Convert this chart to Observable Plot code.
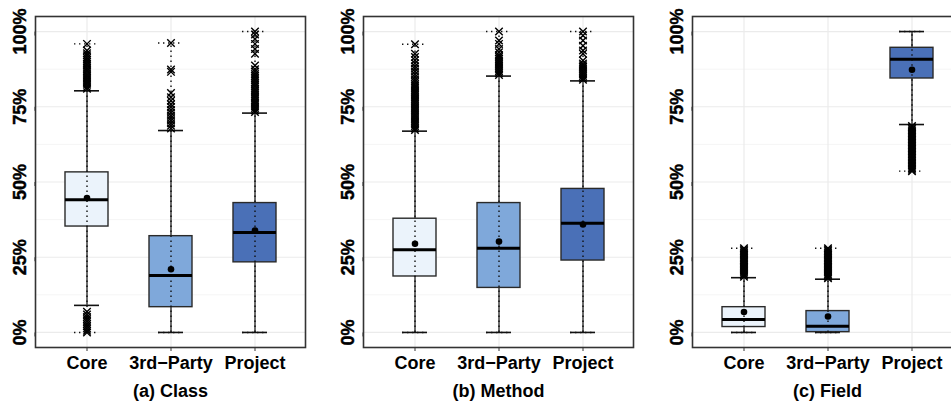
<!DOCTYPE html>
<html><head><meta charset="utf-8">
<script src="https://cdn.jsdelivr.net/npm/d3@7"></script>
<script src="https://cdn.jsdelivr.net/npm/@observablehq/plot@0.6"></script>
<style>
body{margin:0;background:#fff}
#wrap{position:relative;width:951px;height:405px;overflow:hidden;background:#fff}
#wrap svg{position:absolute;top:0;overflow:visible}
#wrap svg text{font-weight:bold}
#wrap svg g[aria-label="y-axis tick label"] text{stroke:#000;stroke-width:0.45px}
</style></head><body><div id="wrap"></div>
<script>
// ---- data (percent values) ----
const categories = ["Core", "3rd\u2212Party", "Project"];
const panelTitles = ["(a) Class", "(b) Method", "(c) Field"];
const yTicks = [0, 25, 50, 75, 100];
const yMinorTicks = [12.5, 37.5, 62.5, 87.5];

// (a) Class
const classQ1 = [35.2, 8.4, 23.3];
const classMedian = [44.1, 18.9, 33.2];
const classQ3 = [53.2, 32.0, 43.0];
const classMean = [44.7, 21.0, 33.9];
const classWhiskerLow = [9.0, 0, 0];
const classWhiskerHigh = [80.3, 67.1, 72.9];
const classMin = [0, 0, 0];
const classMax = [95.9, 96.2, 100];
const classOutCore = [0, 0.6, 1.3, 2.1, 2.8, 3.6, 4.4, 5.1, 6.0, 6.9, 81.0, 81.6, 82.3, 82.9, 83.6, 84.2, 84.8, 85.5, 86.1, 86.8, 87.4, 88.0, 88.7, 89.3, 90.0, 90.6, 91.3, 92.1, 92.8, 93.7, 95.9];
const classOut3rd = [67.8, 68.7, 69.5, 70.4, 71.3, 72.1, 73.0, 73.9, 74.9, 75.8, 77.0, 78.2, 79.6, 86.6, 87.4, 96.2];
const classOutProject = [73.3, 73.9, 74.6, 75.2, 75.9, 76.5, 77.2, 77.9, 78.5, 79.2, 79.8, 80.5, 81.1, 81.8, 82.5, 83.1, 83.8, 84.5, 85.2, 85.9, 86.7, 87.5, 88.7, 92.6, 94.2, 95.9, 97.5, 99.0, 100];

// (b) Method
const methodQ1 = [18.6, 14.8, 23.9];
const methodMedian = [27.5, 28.0, 36.3];
const methodQ3 = [37.8, 43.0, 47.7];
const methodMean = [29.5, 30.2, 35.9];
const methodWhiskerLow = [0, 0, 0];
const methodWhiskerHigh = [66.9, 85.2, 83.6];
const methodMin = [0, 0, 0];
const methodMax = [95.8, 100, 100];
const methodOutCore = [67.3, 67.9, 68.5, 69.1, 69.7, 70.3, 70.9, 71.6, 72.2, 72.8, 73.4, 74.0, 74.6, 75.2, 75.8, 76.4, 77.0, 77.6, 78.2, 78.8, 79.4, 80.0, 80.6, 81.2, 81.8, 82.5, 83.3, 84.1, 84.9, 85.8, 86.7, 87.6, 88.5, 89.5, 90.5, 91.5, 92.6, 95.8];
const methodOut3rd = [85.6, 86.2, 86.8, 87.4, 88.0, 88.6, 89.2, 89.8, 90.4, 91.0, 91.6, 92.2, 93.1, 94.2, 95.9, 97.0, 100];
const methodOutProject = [84.0, 84.6, 85.2, 85.8, 86.4, 87.0, 87.6, 88.2, 88.8, 89.4, 90.4, 92.6, 93.7, 95.3, 97.0, 98.7, 100];

// (c) Field
const fieldQ1 = [1.8, 0.1, 84.4];
const fieldMedian = [4.3, 2.1, 90.8];
const fieldQ3 = [8.4, 7.1, 94.6];
const fieldMean = [6.8, 5.3, 87.3];
const fieldWhiskerLow = [0, 0, 69.1];
const fieldWhiskerHigh = [18.2, 17.7, 100];
const fieldMin = [0, 0, 53.6];
const fieldMax = [28.0, 28.0, 100];
const fieldOutCore = [18.5, 19.0, 19.4, 19.9, 20.4, 20.9, 21.4, 21.8, 22.3, 22.8, 23.3, 23.8, 24.2, 24.7, 25.2, 25.7, 26.2, 26.6, 27.1, 27.6, 28.0];
const fieldOut3rd = [18.0, 18.5, 19.0, 19.4, 19.9, 20.4, 20.9, 21.4, 21.8, 22.3, 22.8, 23.3, 23.8, 24.2, 24.7, 25.2, 25.7, 26.2, 26.6, 27.1, 27.6, 28.0];
const fieldOutProject = [53.6, 54.1, 54.6, 55.1, 55.6, 56.1, 56.6, 57.1, 57.6, 58.1, 58.6, 59.1, 59.6, 60.1, 60.6, 61.1, 61.6, 62.1, 62.6, 63.1, 63.6, 64.1, 64.6, 65.1, 65.6, 66.1, 66.6, 67.1, 67.6, 68.1, 68.6];

// ---- build tables ----
function makePanel(title, q1, med, q3, mean, wlo, whi, mn, mx, outs) {
  const rows = categories.map((c, i) => ({cat: c, q1: q1[i], median: med[i], q3: q3[i], mean: mean[i], wlo: wlo[i], whi: whi[i], min: mn[i], max: mx[i]}));
  const outliers = [];
  outs.forEach((arr, i) => arr.forEach(v => outliers.push({cat: categories[i], v})));
  return {title, rows, outliers};
}
const panels = [
  makePanel(panelTitles[0], classQ1, classMedian, classQ3, classMean, classWhiskerLow, classWhiskerHigh, classMin, classMax, [classOutCore, classOut3rd, classOutProject]),
  makePanel(panelTitles[1], methodQ1, methodMedian, methodQ3, methodMean, methodWhiskerLow, methodWhiskerHigh, methodMin, methodMax, [methodOutCore, methodOut3rd, methodOutProject]),
  makePanel(panelTitles[2], fieldQ1, fieldMedian, fieldQ3, fieldMean, fieldWhiskerLow, fieldWhiskerHigh, fieldMin, fieldMax, [fieldOutCore, fieldOut3rd, fieldOutProject])
];

// ---- styling ----
const fills = ["#EBF3FB", "#7FA8DA", "#4A70B7"];
const font = "'Liberation Sans', Arial, Helvetica, sans-serif";
const wrap = document.getElementById("wrap");
const panelLefts = [0, 328, 657];
const capInset = 9;
const dots = "1.4,3.6";

panels.forEach((p, k) => {
  const svg = Plot.plot({
    width: 328, height: 405,
    marginLeft: 35, marginRight: 23, marginTop: 16, marginBottom: 58,
    style: {fontFamily: font, background: "transparent", color: "black"},
    x: {type: "band", domain: categories, paddingInner: 0.494, paddingOuter: 0.347, axis: null},
    y: {domain: [-5, 105], axis: null},
    color: {domain: categories, range: fills},
    marks: [
      Plot.ruleY(yMinorTicks, {stroke: "#F3F3F3", strokeWidth: 0.8}),
      Plot.gridY(yTicks, {stroke: "#EBEBEB", strokeOpacity: 1, strokeWidth: 1.2}),
      Plot.gridX(categories, {stroke: "#EBEBEB", strokeOpacity: 1, strokeWidth: 1.2}),
      Plot.ruleX(p.rows, {x: "cat", y1: "wlo", y2: "whi", stroke: "#111", strokeWidth: 1.2}),
      Plot.tickY(p.rows, {x: "cat", y: "wlo", stroke: "#111", strokeWidth: 1.6, insetLeft: capInset, insetRight: capInset}),
      Plot.tickY(p.rows, {x: "cat", y: "whi", stroke: "#111", strokeWidth: 1.6, insetLeft: capInset, insetRight: capInset}),
      Plot.barY(p.rows, {x: "cat", y1: "q1", y2: "q3", fill: "cat", stroke: "#2a2a2a", strokeWidth: 1.4}),
      Plot.ruleX(p.rows, {x: "cat", y1: "min", y2: "max", stroke: "#111", strokeWidth: 1.4, strokeDasharray: dots}),
      Plot.tickY(p.rows, {x: "cat", y: "min", stroke: "#111", strokeWidth: 1.4, strokeDasharray: dots, insetLeft: capInset, insetRight: capInset}),
      Plot.tickY(p.rows, {x: "cat", y: "max", stroke: "#111", strokeWidth: 1.4, strokeDasharray: dots, insetLeft: capInset, insetRight: capInset}),
      Plot.tickY(p.rows, {x: "cat", y: "median", stroke: "black", strokeWidth: 3}),
      Plot.dot(p.outliers, {x: "cat", y: "v", symbol: "times", r: 3.5, stroke: "#000", strokeWidth: 1.4}),
      Plot.dot(p.rows, {x: "cat", y: "mean", r: 3.3, fill: "black", stroke: "none"}),
      Plot.frame({stroke: "#333", strokeWidth: 1.6}),
      Plot.axisY({ticks: yTicks, tickFormat: d => d + "%", tickSize: 4, tickPadding: 11, rotate: -90, textAnchor: "middle", fontSize: 18, fontWeight: "bold", stroke: "#333", fill: "black"}),
      Plot.axisX({tickSize: 4, tickPadding: 5, fontSize: 18, fontWeight: "bold", label: null, stroke: "#333", fill: "black"}),
      Plot.text([p.title], {frameAnchor: "bottom", dy: 49, fontSize: 18, fontWeight: "bold", lineAnchor: "bottom", fill: "black"})
    ]
  });
  svg.style.left = panelLefts[k] + "px";
  wrap.appendChild(svg);
});
</script>
</body></html>
